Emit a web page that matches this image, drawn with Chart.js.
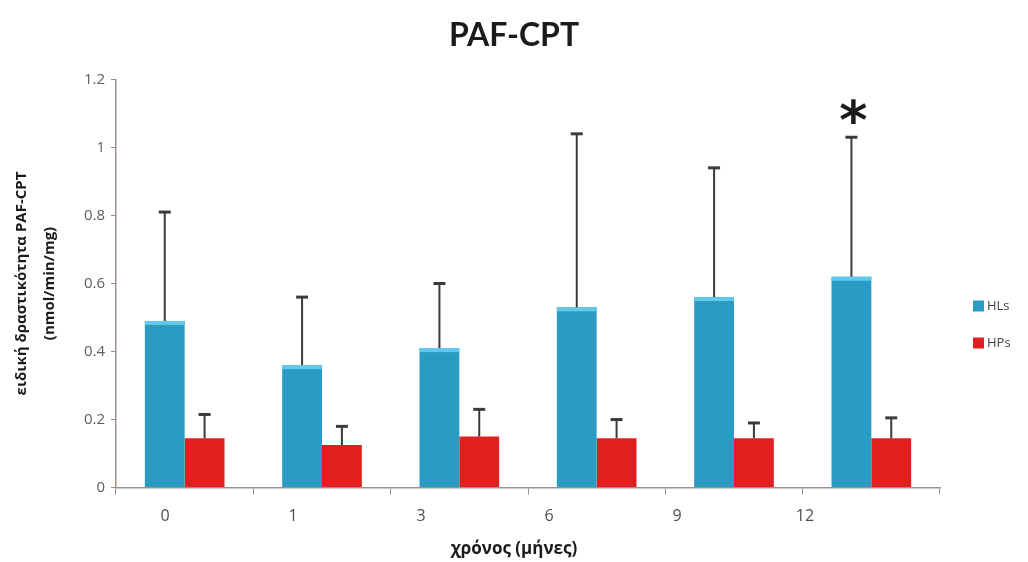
<!DOCTYPE html>
<html>
<head>
<meta charset="utf-8">
<script src="https://cdn.jsdelivr.net/npm/chart.js@4.4.1/dist/chart.umd.min.js"></script>
<style>
  html, body { margin: 0; padding: 0; background: #ffffff; }
  #wrap { width: 1028px; height: 562px; position: relative; }
</style>
</head>
<body>
<div id="wrap"><canvas id="chart" width="1028" height="562"></canvas></div>
<script>
// Months after the start of the study
const months = ['0', '1', '3', '6', '9', '12'];

// PAF-CPT specific activity (nmol/min/mg): mean and upper SD per group
const hlsMean = [0.49, 0.36, 0.41, 0.53, 0.56, 0.62];
const hlsSD   = [0.32, 0.20, 0.19, 0.51, 0.38, 0.41];
const hpsMean = [0.145, 0.125, 0.15, 0.145, 0.145, 0.145];
const hpsSD   = [0.07, 0.055, 0.08, 0.055, 0.045, 0.06];

// Statistically significant time points for HLs
const hlsSignificant = [false, false, false, false, false, true];

const yTickValues = [0, 0.2, 0.4, 0.6, 0.8, 1, 1.2];

const AXIS_COLOR = '#9c918a';
const BLUE = '#2a9bc3';
const RED = '#e11f1f';

// Upper error bars, top highlight on the blue bars and the significance star
const errorBars = {
  id: 'errorBars',
  afterDatasetsDraw(chart) {
    const ctx = chart.ctx;
    const y = chart.scales.y;
    chart.data.datasets.forEach((ds, di) => {
      const meta = chart.getDatasetMeta(di);
      meta.data.forEach((bar, i) => {
        const mean = ds.data[i];
        const top = y.getPixelForValue(mean + ds.sd[i]);
        ctx.save();
        if (ds.highlight) {
          ctx.fillStyle = ds.highlight;
          ctx.fillRect(bar.x - bar.width / 2, bar.y, bar.width, 4);
        }
        ctx.strokeStyle = '#3c3a3a';
        ctx.lineWidth = 2;
        ctx.beginPath();
        ctx.moveTo(bar.x, bar.y);
        ctx.lineTo(bar.x, top);
        ctx.stroke();
        ctx.lineWidth = 3;
        ctx.beginPath();
        ctx.moveTo(bar.x - 6, top);
        ctx.lineTo(bar.x + 6, top);
        ctx.stroke();
        if (ds.significant && ds.significant[i]) {
          ctx.font = 'bold 54px "DejaVu Sans"';
          ctx.fillStyle = '#1a1a1a';
          ctx.textAlign = 'center';
          ctx.textBaseline = 'alphabetic';
          const m = ctx.measureText('*');
          const mid = (m.actualBoundingBoxAscent - m.actualBoundingBoxDescent) / 2;
          ctx.fillText('*', bar.x + 2, top - 26 + mid);
        }
        ctx.restore();
      });
    });
  }
};

// Legend at the right of the plot
const sideLegend = {
  id: 'sideLegend',
  afterDraw(chart, args, opts) {
    const ctx = chart.ctx;
    ctx.save();
    ctx.font = opts.font;
    ctx.textBaseline = 'middle';
    ctx.textAlign = 'left';
    chart.data.datasets.forEach((ds, i) => {
      const cy = opts.y + i * opts.gap;
      ctx.fillStyle = ds.backgroundColor;
      ctx.fillRect(opts.x, cy - opts.box / 2, opts.box, opts.box);
      ctx.fillStyle = opts.color;
      ctx.fillText(ds.label, opts.x + opts.box + 3, cy);
    });
    ctx.restore();
  }
};

new Chart(document.getElementById('chart'), {
  type: 'bar',
  data: {
    labels: months,
    datasets: [
      {
        label: 'HLs',
        data: hlsMean,
        sd: hlsSD,
        significant: hlsSignificant,
        backgroundColor: BLUE,
        highlight: '#63c9ec',
        categoryPercentage: 0.58,
        barPercentage: 1.0
      },
      {
        label: 'HPs',
        data: hpsMean,
        sd: hpsSD,
        backgroundColor: RED,
        categoryPercentage: 0.58,
        barPercentage: 1.0
      }
    ]
  },
  options: {
    responsive: false,
    animation: false,
    devicePixelRatio: 1,
    layout: { padding: 0 },
    plugins: {
      legend: { display: false },
      tooltip: { enabled: false },
      title: {
        display: true,
        text: 'PAF-CPT',
        color: '#1b1b1b',
        font: { family: 'Lato', size: 32, weight: 'bold', lineHeight: 1.2 },
        padding: { top: 16, bottom: 25 }
      },
      subtitle: {
        display: true,
        position: 'bottom',
        text: 'χρόνος (μήνες)',
        color: '#1b1b1b',
        font: { family: 'Open Sans', size: 17, weight: 'bold', lineHeight: 1.2 },
        padding: { top: 0, bottom: 3 }
      },
      sideLegend: {
        x: 973, y: 306, gap: 37, box: 11,
        font: '13px "Open Sans"', color: '#444444'
      }
    },
    scales: {
      y: {
        min: 0,
        max: 1.2,
        afterBuildTicks: (s) => { s.ticks = yTickValues.map(v => ({ value: v })); },
        afterFit: (s) => { s.width = 116; },
        ticks: {
          color: '#5e5e5e',
          font: { family: 'Open Sans', size: 15 },
          padding: 6,
          callback: (v) => String(v)
        },
        grid: {
          drawOnChartArea: false,
          drawTicks: true,
          tickLength: 5,
          color: AXIS_COLOR
        },
        border: { display: true, color: AXIS_COLOR, width: 1.5 },
        title: {
          display: true,
          text: ['ειδική δραστικότητα PAF-CPT', '(nmol/min/mg)'],
          color: '#1b1b1b',
          font: { family: 'Open Sans', size: 15, weight: 'bold', lineHeight: 1.85 },
          padding: { top: 8, bottom: 0 }
        }
      },
      // empty band on the right that holds the legend
      legendSpace: {
        type: 'linear',
        position: 'right',
        display: true,
        afterFit: (s) => { s.width = 88; },
        ticks: { display: false },
        grid: { display: false, drawTicks: false },
        border: { display: false }
      },
      x: {
        type: 'category',
        position: 'bottom',
        weight: 0,
        afterFit: (s) => { s.height = 7; },
        ticks: { display: false },
        grid: {
          offset: true,
          drawOnChartArea: false,
          drawTicks: true,
          tickLength: 7,
          color: AXIS_COLOR
        },
        border: { display: true, color: AXIS_COLOR, width: 1.5 }
      },
      xLabels: {
        type: 'linear',
        position: 'bottom',
        weight: 1,
        offset: false,
        min: -0.383,
        max: 6.055,
        afterBuildTicks: (s) => { s.ticks = months.map((m, i) => ({ value: i })); },
        afterFit: (s) => { s.height = 44; },
        ticks: {
          autoSkip: false,
          maxRotation: 0,
          color: '#4e4e4e',
          font: { family: 'Open Sans', size: 16 },
          padding: 12,
          callback: (v) => months[v]
        },
        grid: { display: false, offset: false, drawTicks: false },
        border: { display: false }
      }
    }
  },
  plugins: [errorBars, sideLegend]
});
</script>
</body>
</html>
